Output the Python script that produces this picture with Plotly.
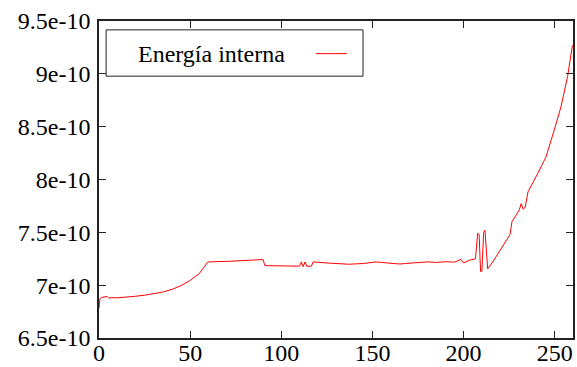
import plotly.graph_objects as go

# Data (x: step, y: internal energy in units of 1e-10)
x_vals = [0, 0.5, 1.5, 3, 4.5, 5.5, 6.5, 10, 15, 20, 25, 30, 35, 40, 45, 50, 55, 59.5, 60,
          70, 80, 90, 91, 100, 105, 110, 111, 112, 113, 114, 116.5, 117.5, 125, 137, 145,
          150, 152, 155, 160, 165, 168, 175, 180, 185, 190, 195, 198.5, 200, 203, 206.5,
          207.7, 208.5, 209.3, 210, 211, 211.7, 213.2, 216, 221, 225.5, 226.5, 228, 230.5,
          231.6, 232.7, 233.8, 235.3, 240.6, 245.2, 249.7, 253.4, 257, 259.7]
y_e10 = [6.78, 6.87, 6.885, 6.89, 6.893, 6.875, 6.882, 6.88, 6.885, 6.895, 6.905, 6.918,
         6.935, 6.96, 6.995, 7.045, 7.11, 7.215, 7.22,
         7.225, 7.232, 7.242, 7.185, 7.18, 7.178, 7.18, 7.22, 7.175, 7.22, 7.178, 7.18,
         7.22, 7.21, 7.198, 7.205,
         7.213, 7.22, 7.215, 7.21, 7.2, 7.205, 7.212, 7.22, 7.215, 7.222, 7.218, 7.244,
         7.21, 7.235, 7.25,
         7.49, 7.48, 7.13, 7.13, 7.5, 7.52, 7.155, 7.22, 7.36, 7.48, 7.6, 7.64, 7.71,
         7.772, 7.718, 7.74, 7.882, 8.056, 8.214, 8.467, 8.688, 8.972, 9.27]

x_ticks = [0, 50, 100, 150, 200, 250]
y_ticks = [6.5, 7.0, 7.5, 8.0, 8.5, 9.0, 9.5]
y_tick_labels = ["6.5e-10", "7e-10", "7.5e-10", "8e-10", "8.5e-10", "9e-10", "9.5e-10"]
series_name = "Energía interna"

FONT = "Liberation Serif"
FS = 24

fig = go.Figure()
fig.add_trace(go.Scatter(x=x_vals, y=y_e10, mode="lines", name=series_name,
                         line=dict(color="#ff0000", width=1), showlegend=False))

axis_common = dict(showline=True, linecolor="#222222", linewidth=1.5, mirror="allticks",
                   ticks="inside", ticklen=7, tickcolor="#222222", tickwidth=1,
                   showgrid=False, zeroline=False, automargin=False,
                   tickfont=dict(family=FONT, size=FS, color="black"))

fig.update_xaxes(range=[0, 260], tickvals=x_ticks, ticklabelstandoff=-8, **axis_common)
fig.update_yaxes(range=[6.5, 9.5], tickvals=y_ticks, ticktext=y_tick_labels,
                 ticklabelstandoff=2, **axis_common)

# Key box (gnuplot style: text left, sample right)
fig.add_shape(type="rect", xref="paper", yref="paper", x0=0.015, x1=0.557, y0=0.826, y1=0.972,
              line=dict(color="#222222", width=1), fillcolor="white", layer="above")
fig.add_shape(type="line", xref="paper", yref="paper", x0=0.458, x1=0.523, y0=0.897, y1=0.897,
              line=dict(color="#ff0000", width=1), layer="above")
fig.add_annotation(xref="paper", yref="paper", x=0.078, y=0.897, xanchor="left", yanchor="middle",
                   text=series_name, showarrow=False, font=dict(family=FONT, size=FS, color="black"))

fig.update_layout(width=577, height=367, margin=dict(l=99, r=4, t=21, b=29),
                  paper_bgcolor="white", plot_bgcolor="white",
                  font=dict(family=FONT, size=FS, color="black"))

fig.write_html("out.html")
